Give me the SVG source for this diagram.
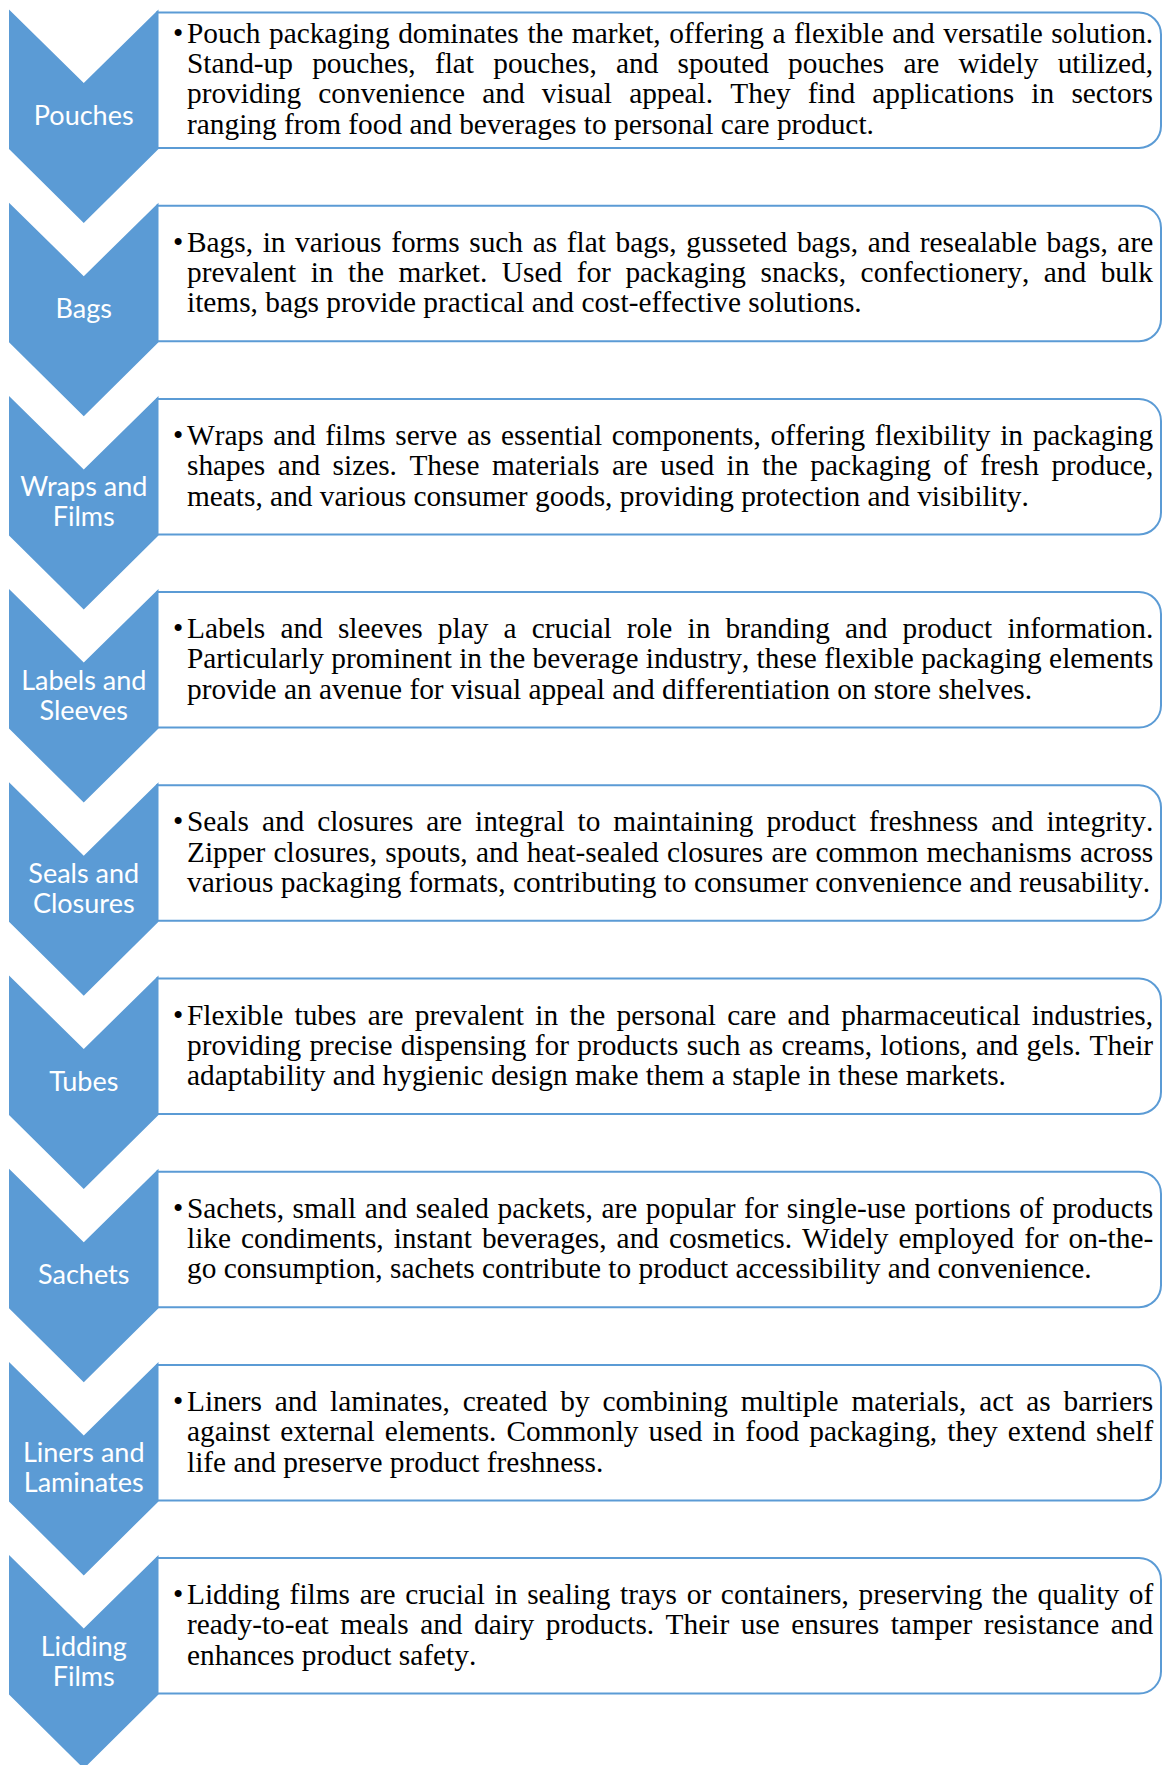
<svg xmlns="http://www.w3.org/2000/svg" xmlns:xlink="http://www.w3.org/1999/xlink" width="1163" height="1765" viewBox="0 0 1163 1765">
<style>
.chev{fill:#5B9BD5}
.box{fill:#FFFFFF;stroke:#5B9BD5;stroke-width:2}
.lbl{font-family:Lato,"Open Sans","Liberation Sans",sans-serif;font-size:27px;fill:#FFFFFF;text-anchor:middle}
.txt{font-family:"Liberation Serif","Times New Roman",serif;font-size:29.35px;fill:#000000;font-kerning:none}
</style>
<defs>
<path id="chev" class="chev" d="M9,0 L83.75,73.5 L158.5,0 L158.5,139.5 L83.75,213.5 L9,139.5 Z"/>
<path id="box" class="box" d="M157,3 H1139 A22,22 0 0 1 1161,25 V116.5 A22,22 0 0 1 1139,138.5 H157 Z"/>
</defs>
<rect width="1163" height="1765" fill="#FFFFFF"/>
<g id="connectors"></g>

<g id="node-pouches" transform="translate(0,9.5)">
<use xlink:href="#box" href="#box"/>
<use xlink:href="#chev" href="#chev"/>
<text class="lbl" x="83.75" y="115.5">Pouches</text>
<text class="txt">
<tspan x="173" y="33.2">•</tspan><tspan x="187" y="33.2" word-spacing="1.28">Pouch packaging dominates the market, offering a flexible and versatile solution.</tspan>
<tspan x="187" y="63.5" word-spacing="11.9">Stand-up pouches, flat pouches, and spouted pouches are widely utilized,</tspan>
<tspan x="187" y="93.8" word-spacing="9.9">providing convenience and visual appeal. They find applications in sectors</tspan>
<tspan x="187" y="124.1">ranging from food and beverages to personal care product.</tspan>
</text>
</g>

<g id="node-bags" transform="translate(0,202.7)">
<use xlink:href="#box" href="#box"/>
<use xlink:href="#chev" href="#chev"/>
<text class="lbl" x="83.75" y="115.5">Bags</text>
<text class="txt">
<tspan x="173" y="49.1">•</tspan><tspan x="187" y="49.1" word-spacing="2.3">Bags, in various forms such as flat bags, gusseted bags, and resealable bags, are</tspan>
<tspan x="187" y="79.4" word-spacing="7.2">prevalent in the market. Used for packaging snacks, confectionery, and bulk</tspan>
<tspan x="187" y="109.7">items, bags provide practical and cost-effective solutions.</tspan>
</text>
</g>

<g id="node-wraps" transform="translate(0,395.9)">
<use xlink:href="#box" href="#box"/>
<use xlink:href="#chev" href="#chev"/>
<text class="lbl" x="83.75"><tspan x="83.75" y="100.5">Wraps and</tspan><tspan x="83.75" y="130.5">Films</tspan></text>
<text class="txt">
<tspan x="173" y="49.1">•</tspan><tspan x="187" y="49.1" word-spacing="2.34">Wraps and films serve as essential components, offering flexibility in packaging</tspan>
<tspan x="187" y="79.4" word-spacing="5.15">shapes and sizes. These materials are used in the packaging of fresh produce,</tspan>
<tspan x="187" y="109.7">meats, and various consumer goods, providing protection and visibility.</tspan>
</text>
</g>

<g id="node-labels" transform="translate(0,589.1)">
<use xlink:href="#box" href="#box"/>
<use xlink:href="#chev" href="#chev"/>
<text class="lbl" x="83.75"><tspan x="83.75" y="100.5">Labels and</tspan><tspan x="83.75" y="130.5">Sleeves</tspan></text>
<text class="txt">
<tspan x="173" y="49.1">•</tspan><tspan x="187" y="49.1" word-spacing="7.84">Labels and sleeves play a crucial role in branding and product information.</tspan>
<tspan x="187" y="79.4" word-spacing="0">Particularly prominent in the beverage industry, these flexible packaging elements</tspan>
<tspan x="187" y="109.7">provide an avenue for visual appeal and differentiation on store shelves.</tspan>
</text>
</g>

<g id="node-seals" transform="translate(0,782.3)">
<use xlink:href="#box" href="#box"/>
<use xlink:href="#chev" href="#chev"/>
<text class="lbl" x="83.75"><tspan x="83.75" y="100.5">Seals and</tspan><tspan x="83.75" y="130.5">Closures</tspan></text>
<text class="txt">
<tspan x="173" y="49.1">•</tspan><tspan x="187" y="49.1" word-spacing="5.6">Seals and closures are integral to maintaining product freshness and integrity.</tspan>
<tspan x="187" y="79.4" word-spacing="0.98">Zipper closures, spouts, and heat-sealed closures are common mechanisms across</tspan>
<tspan x="187" y="109.7">various packaging formats, contributing to consumer convenience and reusability.</tspan>
</text>
</g>

<g id="node-tubes" transform="translate(0,975.5)">
<use xlink:href="#box" href="#box"/>
<use xlink:href="#chev" href="#chev"/>
<text class="lbl" x="83.75" y="115.5">Tubes</text>
<text class="txt">
<tspan x="173" y="49.1">•</tspan><tspan x="187" y="49.1" word-spacing="3.97">Flexible tubes are prevalent in the personal care and pharmaceutical industries,</tspan>
<tspan x="187" y="79.4" word-spacing="1">providing precise dispensing for products such as creams, lotions, and gels. Their</tspan>
<tspan x="187" y="109.7">adaptability and hygienic design make them a staple in these markets.</tspan>
</text>
</g>

<g id="node-sachets" transform="translate(0,1168.7)">
<use xlink:href="#box" href="#box"/>
<use xlink:href="#chev" href="#chev"/>
<text class="lbl" x="83.75" y="115.5">Sachets</text>
<text class="txt">
<tspan x="173" y="49.1">•</tspan><tspan x="187" y="49.1" word-spacing="1.24">Sachets, small and sealed packets, are popular for single-use portions of products</tspan>
<tspan x="187" y="79.4" word-spacing="2.69">like condiments, instant beverages, and cosmetics. Widely employed for on-the-</tspan>
<tspan x="187" y="109.7">go consumption, sachets contribute to product accessibility and convenience.</tspan>
</text>
</g>

<g id="node-liners" transform="translate(0,1361.9)">
<use xlink:href="#box" href="#box"/>
<use xlink:href="#chev" href="#chev"/>
<text class="lbl" x="83.75"><tspan x="83.75" y="100.5">Liners and</tspan><tspan x="83.75" y="130.5">Laminates</tspan></text>
<text class="txt">
<tspan x="173" y="49.1">•</tspan><tspan x="187" y="49.1" word-spacing="5.52">Liners and laminates, created by combining multiple materials, act as barriers</tspan>
<tspan x="187" y="79.4" word-spacing="2.74">against external elements. Commonly used in food packaging, they extend shelf</tspan>
<tspan x="187" y="109.7">life and preserve product freshness.</tspan>
</text>
</g>

<g id="node-lidding" transform="translate(0,1555.1)">
<use xlink:href="#box" href="#box"/>
<use xlink:href="#chev" href="#chev"/>
<text class="lbl" x="83.75"><tspan x="83.75" y="100.5">Lidding</tspan><tspan x="83.75" y="130.5">Films</tspan></text>
<text class="txt">
<tspan x="173" y="49.1">•</tspan><tspan x="187" y="49.1" word-spacing="2.36">Lidding films are crucial in sealing trays or containers, preserving the quality of</tspan>
<tspan x="187" y="79.4" word-spacing="4.14">ready-to-eat meals and dairy products. Their use ensures tamper resistance and</tspan>
<tspan x="187" y="109.7">enhances product safety.</tspan>
</text>
</g>
</svg>
